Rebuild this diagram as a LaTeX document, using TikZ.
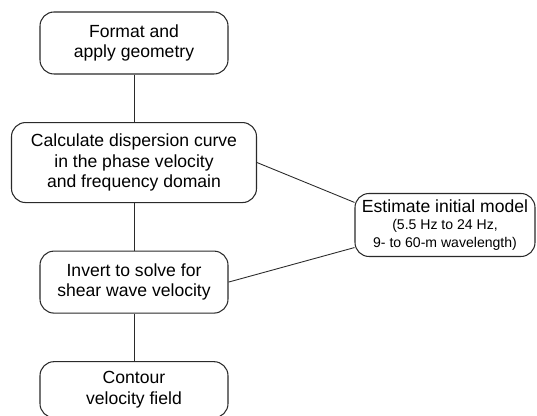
\documentclass[tikz,border=0pt]{standalone}
\usepackage{fontspec}
\setmainfont{Liberation Sans}
\usetikzlibrary{positioning}
\definecolor{inkgray}{HTML}{2A2A2A}
\newcommand{\smalltxt}{\fontsize{8}{9.3}\selectfont}

\begin{document}
\begin{tikzpicture}[
    line width=0.6pt,
    node distance=9.5mm,
    stage/.style={draw=inkgray, fill=white, rounded corners=8pt,
                  minimum width=3.76cm, minimum height=1.24cm, align=center,
                  text=black, font=\fontsize{10}{11.5}\selectfont},
    widestage/.style={stage, minimum width=4.9cm, minimum height=1.6cm},
    link/.style={draw=inkgray, line width=0.5pt},
  ]
  \useasboundingbox (0,0) rectangle (10.74,-8.32);

  % ---- main processing chain ----
  \node[stage] (format) at (2.68,-0.86) {Format and\\apply geometry};
  \node[widestage, below=of format] (disp)
    {Calculate dispersion curve\\in the phase velocity\\and frequency domain};
  \node[stage, below=of disp] (invert) {Invert to solve for\\shear wave velocity};
  \node[stage, below=of invert, minimum height=1.12cm] (contour)
    {Contour\\velocity field};

  % ---- side input ----
  \node[stage, minimum width=3.6cm, minimum height=1.26cm] (model) at (8.9,-4.5)
    {Estimate initial model\\[-2pt]\smalltxt (5.5 Hz to 24 Hz,\\[-1pt]\smalltxt 9- to 60-m wavelength)};

  \draw[link] (format) -- (disp);
  \draw[link] (disp) -- (invert);
  \draw[link] (invert) -- (contour);
  \draw[link] (disp.east) -- (model.166);
  \draw[link] (invert.east) -- (model.194);
\end{tikzpicture}
\end{document}
